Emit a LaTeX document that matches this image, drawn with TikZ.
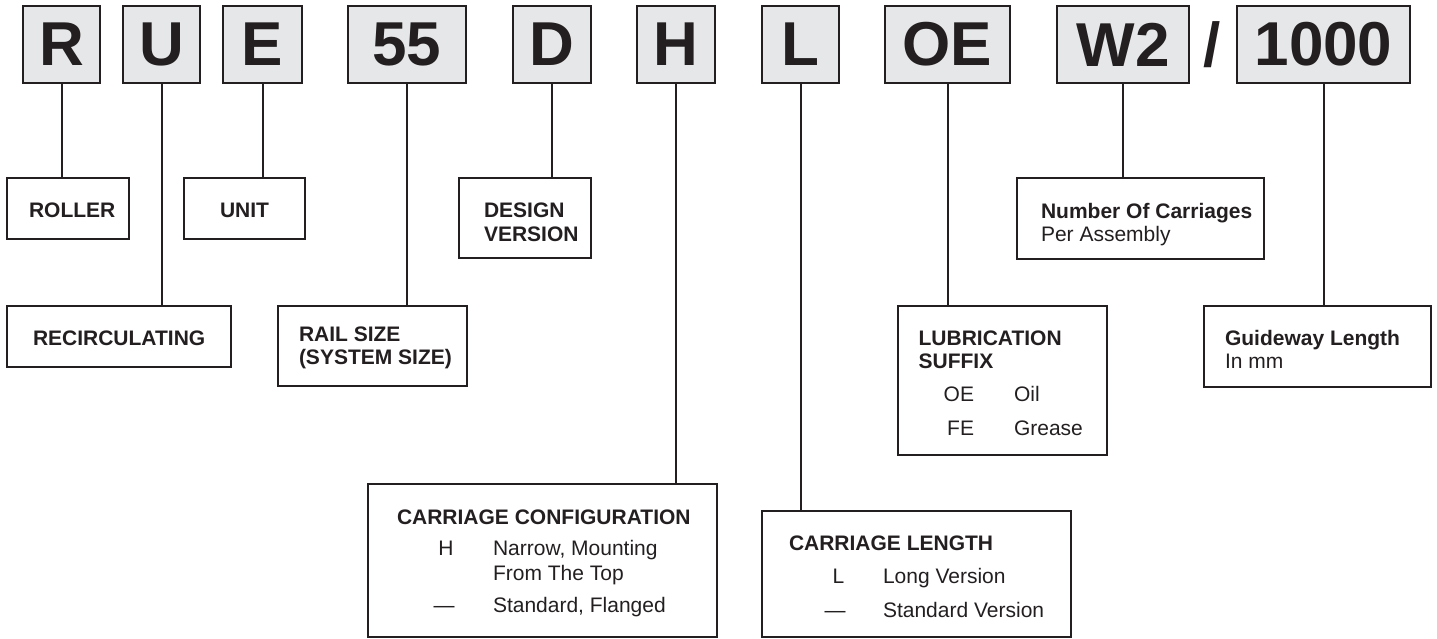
\documentclass[tikz,border=0pt]{standalone}
\usepackage{fontspec}
\setmainfont{Liberation Sans}
\definecolor{ink}{HTML}{231F20}
\definecolor{keyfill}{HTML}{E6E7E8}
\begin{document}
\begin{tikzpicture}[x=1pt,y=-1pt,
  key/.style={draw=ink, fill=keyfill, line width=2pt, inner sep=0pt, outer sep=0pt,
    minimum height=77pt, font=\fontsize{62}{62}\selectfont\bfseries, text=ink},
  infobox/.style={draw=ink, line width=2pt, inner sep=0pt, outer sep=0pt, anchor=north west},
  lbl/.style={anchor=base west, inner sep=0pt, outer sep=0pt, text=ink, font=\fontsize{21}{24}\selectfont},
  hd/.style={lbl, font=\fontsize{21}{24}\selectfont\bfseries},
  code/.style={lbl, anchor=base},
  coder/.style={lbl, anchor=base east},
  link/.style={draw=ink, line width=2pt}]
\useasboundingbox (0,0) rectangle (1437,638);

% key boxes
\node[key, minimum width=77pt]  (kR)  at (61.5,44.5) {R};
\node[key, minimum width=77pt]  (kU)  at (161.5,44.5) {U};
\node[key, minimum width=79pt]  (kE)  at (262.5,44.5) {E};
\node[key, minimum width=118pt] (k55) at (407,44.5) {55};
\node[key, minimum width=78pt]  (kD)  at (552,44.5) {D};
\node[key, minimum width=78pt]  (kH)  at (676,44.5) {H};
\node[key, minimum width=77pt]  (kL)  at (800.5,44.5) {L};
\node[key, minimum width=125pt] (kOE) at (947.5,44.5) {OE};
\node[key, minimum width=132pt] (kW)  at (1123,44.5) {W2};
\node[inner sep=0pt, text=ink, font=\fontsize{62}{62}\selectfont\bfseries] (slash) at (1212,44.5) {/};
\node[key, minimum width=173pt] (kLen) at (1323.5,44.5) {1000};

% description boxes
\node[infobox, minimum width=122pt, minimum height=61pt]  (roller) at (7,178) {};
\node[infobox, minimum width=121pt, minimum height=61pt]  (unit)   at (184,178) {};
\node[infobox, minimum width=132pt, minimum height=80pt]  (design) at (459,178) {};
\node[infobox, minimum width=247pt, minimum height=81pt]  (ncar)   at (1017,178) {};
\node[infobox, minimum width=224pt, minimum height=61pt]  (recirc) at (7,306) {};
\node[infobox, minimum width=189pt, minimum height=80pt]  (rail)   at (278,306) {};
\node[infobox, minimum width=209pt, minimum height=149pt] (lubr)   at (898,306) {};
\node[infobox, minimum width=227pt, minimum height=81pt]  (guide)  at (1204,306) {};
\node[infobox, minimum width=349pt, minimum height=153pt] (cconf)  at (368,484) {};
\node[infobox, minimum width=309pt, minimum height=126pt] (clen)   at (762,511) {};

% texts
\node[hd] (tRoller) at (29,217) {ROLLER};
\node[hd] (tUnit) at (220,217) {UNIT};
\node[hd] (tDes1) at (484,217) {DESIGN};
\node[hd] (tDes2) at (484,241) {VERSION};
\node[hd] (tRec) at (33,345) {RECIRCULATING};
\node[hd] (tRail1) at (299,341) {RAIL SIZE};
\node[hd] (tRail2) at (299,364) {(SYSTEM SIZE)};
\node[hd] (tNum1) at (1041,218) {Number Of Carriages};
\node[lbl] (tNum2) at (1041,241) {Per Assembly};
\node[hd] (tLub1) at (918.6,345) {LUBRICATION};
\node[hd] (tLub2) at (918.6,368) {SUFFIX};
\node[coder] (tOE) at (974,401) {OE};
\node[lbl] (tOil) at (1014,401) {Oil};
\node[coder] (tFE) at (974,435) {FE};
\node[lbl] (tGr) at (1014,435) {Grease};
\node[hd] (tGuide1) at (1225,345) {Guideway Length};
\node[lbl] (tGuide2) at (1225,368) {In mm};
\node[hd] (tCC) at (397,524) {CARRIAGE CONFIGURATION};
\node[code] (tH) at (446,555) {H};
\node[lbl] (tH1) at (493,555) {Narrow, Mounting};
\node[lbl] (tH2) at (493,580) {From The Top};
\node[code] (tCCd) at (444,612) {—};
\node[lbl] (tCCs) at (493,612) {Standard, Flanged};
\node[hd] (tCL) at (789,550) {CARRIAGE LENGTH};
\node[code] (tL) at (838.5,583) {L};
\node[lbl] (tL1) at (883,583) {Long Version};
\node[code] (tCLd) at (835,617) {—};
\node[lbl] (tCLs) at (883,617) {Standard Version};

% connectors
\draw[link] (kR.south) -- (kR.south |- roller.north);
\draw[link] (kU.south) -- (kU.south |- recirc.north);
\draw[link] (kE.south) -- (kE.south |- unit.north);
\draw[link] (k55.south) -- (k55.south |- rail.north);
\draw[link] (kD.south) -- (kD.south |- design.north);
\draw[link] (kH.south) -- (kH.south |- cconf.north);
\draw[link] (kL.south) -- (kL.south |- clen.north);
\draw[link] (kOE.south) -- (kOE.south |- lubr.north);
\draw[link] (kW.south) -- (kW.south |- ncar.north);
\draw[link] (kLen.south) -- (kLen.south |- guide.north);
\end{tikzpicture}
\end{document}
